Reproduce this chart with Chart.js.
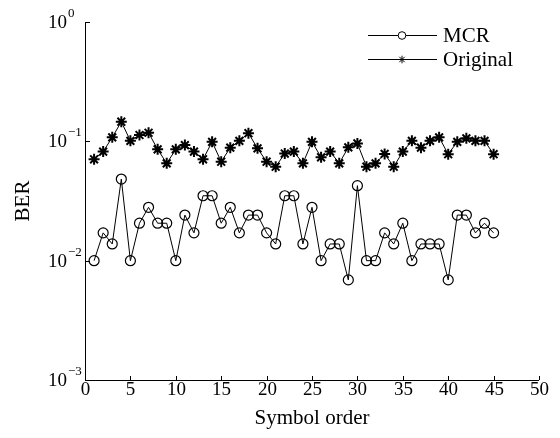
<!DOCTYPE html>
<html>
<head>
<meta charset="utf-8">
<script src="https://cdn.jsdelivr.net/npm/chart.js@4/dist/chart.umd.min.js"></script>
<style>
  html, body { margin: 0; padding: 0; background: #fff; }
  #wrap { width: 560px; height: 438px; position: relative; }
</style>
</head>
<body>
<div id="wrap"><canvas id="chart"></canvas></div>
<script>
// symbol index 1..45
const symbols = Array.from({ length: 45 }, (_, i) => i + 1);

// BER
const mcrBer = [
  0.0100, 0.0171, 0.0138, 0.0483, 0.0100, 0.0206, 0.0280, 0.0206, 0.0206, 0.0100,
  0.0241, 0.0171, 0.0350, 0.0350, 0.0206, 0.0280, 0.0171, 0.0241, 0.0241, 0.0171,
  0.0138, 0.0350, 0.0350, 0.0138, 0.0280, 0.0100, 0.0138, 0.0138, 0.0069, 0.0425,
  0.0100, 0.0100, 0.0171, 0.0138, 0.0206, 0.0100, 0.0138, 0.0138, 0.0138, 0.0069,
  0.0241, 0.0241, 0.0171, 0.0206, 0.0171
];
const originalBer = [
  0.0707, 0.0820, 0.1080, 0.1460, 0.1010, 0.1130, 0.1180, 0.0857, 0.0654, 0.0857,
  0.0930, 0.0820, 0.0707, 0.0990, 0.0675, 0.0885, 0.1010, 0.1170, 0.0874, 0.0675,
  0.0613, 0.0790, 0.0820, 0.0654, 0.0990, 0.0735, 0.0820, 0.0654, 0.0890, 0.0960,
  0.0613, 0.0654, 0.0785, 0.0613, 0.0820, 0.1010, 0.0885, 0.1010, 0.1080, 0.0780,
  0.0990, 0.1060, 0.1010, 0.1010, 0.0780
];

const xTicks = [0, 5, 10, 15, 20, 25, 30, 35, 40, 45, 50];
const yTicks = [1, 0.1, 0.01, 0.001];
const yTickExp = ['0', '\u22121', '\u22122', '\u22123'];
const seriesNames = ['MCR', 'Original'];

const FONT = '"Liberation Serif", "Times New Roman", serif';

// axes, inward ticks, tick labels and legend, all drawn by hand
const axesPlugin = {
  id: 'matlabAxes',
  afterDatasetsDraw(chart) {
    const { ctx, chartArea: a, scales: { x, y } } = chart;
    ctx.save();
    ctx.strokeStyle = '#000';
    ctx.lineWidth = 1;

    // axis lines
    ctx.beginPath();
    ctx.moveTo(a.left + 0.5, a.top);
    ctx.lineTo(a.left + 0.5, a.bottom + 0.5);
    ctx.lineTo(a.right, a.bottom + 0.5);
    ctx.stroke();

    // x ticks + labels
    ctx.fillStyle = '#000';
    ctx.font = '19px ' + FONT;
    ctx.textAlign = 'center';
    ctx.textBaseline = 'alphabetic';
    xTicks.forEach(v => {
      const px = Math.round(x.getPixelForValue(v)) + 0.5;
      ctx.beginPath();
      ctx.moveTo(px, a.bottom);
      ctx.lineTo(px, a.bottom - 4);
      ctx.stroke();
      ctx.fillText(String(v), px, a.bottom + 15);
    });

    // y ticks + 10^n labels
    yTicks.forEach((v, i) => {
      const py = Math.round(y.getPixelForValue(v)) + 0.5;
      ctx.beginPath();
      ctx.moveTo(a.left, py);
      ctx.lineTo(a.left + 5, py);
      ctx.stroke();
      ctx.font = '19px ' + FONT;
      ctx.textAlign = 'right';
      ctx.textBaseline = 'middle';
      ctx.fillText('10', 67, py + 1);
      ctx.font = '13px ' + FONT;
      ctx.textAlign = 'left';
      ctx.fillText(yTickExp[i], 68, py - 9);
    });

    // axis titles
    ctx.font = '21px ' + FONT;
    ctx.textAlign = 'center';
    ctx.textBaseline = 'alphabetic';
    ctx.fillText('Symbol order', (a.left + a.right) / 2, 424);
    ctx.save();
    ctx.translate(29, (a.top + a.bottom) / 2);
    ctx.rotate(-Math.PI / 2);
    ctx.fillText('BER', 0, 0);
    ctx.restore();

    // legend
    const rows = [35, 59];
    chart.data.datasets.forEach((ds, i) => {
      const ly = rows[i] + 0.5;
      ctx.strokeStyle = '#000';
      ctx.lineWidth = 1;
      ctx.beginPath();
      ctx.moveTo(368, ly);
      ctx.lineTo(437, ly);
      ctx.stroke();
      ctx.fillStyle = i === 0 ? '#fff' : '#000';
      Chart.helpers.drawPoint(ctx, {
        pointStyle: ds.pointStyle,
        radius: 3.8,
        borderWidth: ds.pointBorderWidth
      }, 402, ly);
      ctx.fillStyle = '#000';
      ctx.font = '21px ' + FONT;
      ctx.textAlign = 'left';
      ctx.textBaseline = 'middle';
      ctx.fillText(seriesNames[i], 443, rows[i] + 1);
    });
    ctx.restore();
  }
};

new Chart(document.getElementById('chart'), {
  type: 'line',
  data: {
    labels: symbols,
    datasets: [
      {
        label: seriesNames[0],
        data: symbols.map((s, i) => ({ x: s, y: mcrBer[i] })),
        borderColor: '#000',
        borderWidth: 1,
        pointStyle: 'circle',
        pointRadius: 5,
        pointBorderWidth: 1.2,
        pointBorderColor: '#000',
        pointBackgroundColor: 'rgba(0,0,0,0)',
        tension: 0
      },
      {
        label: seriesNames[1],
        data: symbols.map((s, i) => ({ x: s, y: originalBer[i] })),
        borderColor: '#000',
        borderWidth: 1,
        pointStyle: 'star',
        pointRadius: 5.5,
        pointBorderWidth: 2,
        pointBorderColor: '#000',
        pointBackgroundColor: '#000',
        tension: 0
      }
    ]
  },
  options: {
    responsive: true,
    maintainAspectRatio: false,
    animation: false,
    layout: { padding: { left: 85, right: 21, top: 22, bottom: 58 } },
    plugins: {
      legend: { display: false },
      tooltip: { enabled: false }
    },
    scales: {
      x: { type: 'linear', min: 0, max: 50, display: false },
      y: { type: 'logarithmic', min: 0.001, max: 1, display: false }
    }
  },
  plugins: [axesPlugin]
});
</script>
</body>
</html>
